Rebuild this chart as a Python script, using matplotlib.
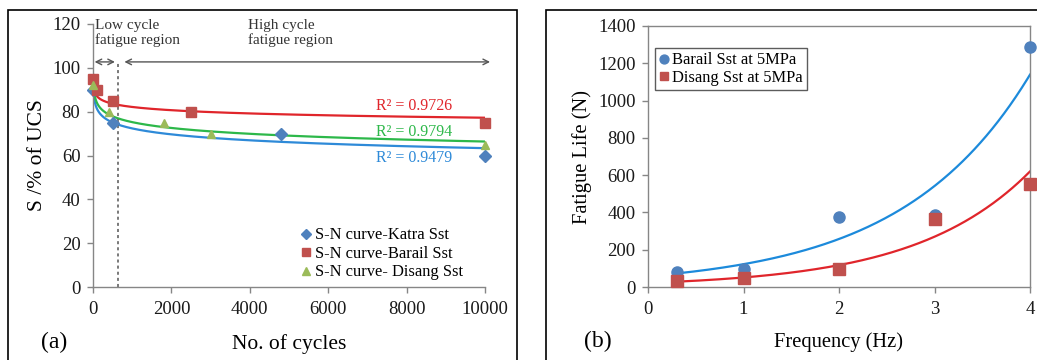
import numpy as np
import matplotlib
matplotlib.use('Agg')
import matplotlib.pyplot as plt
from matplotlib.patches import Rectangle

plt.rcParams['font.family'] = ['Liberation Serif', 'DejaVu Serif']

# ---- panel (a): S-N curves ----
katra_n = [10, 500, 4800, 10000]
katra_s = [90, 75, 70, 60]
barail_n = [1, 100, 500, 2500, 10000]
barail_s = [95, 90, 85, 80, 75]
disang_n = [10, 400, 1800, 3000, 10000]
disang_s = [92, 80, 75, 70, 65]
r2_labels = ['R² = 0.9479', 'R² = 0.9726', 'R² = 0.9794']
low_high_split = 650

# ---- panel (b): fatigue life vs frequency ----
freq = [0.3, 1, 2, 3, 4]
barail_life = [80, 95, 375, 385, 1290]
disang_life = [30, 50, 95, 365, 550]

grey = '#868686'
fig = plt.figure(figsize=(10.37, 3.6), dpi=100)

# panel frames
for x0, w in [(8, 509), (546, 500)]:
    fig.patches.append(Rectangle((x0 / 1037, -0.05), w / 1037, (350 / 360) + 0.05,
                                 transform=fig.transFigure, fill=False,
                                 edgecolor='black', linewidth=1.2))


def style(ax):
    for s in ax.spines.values():
        s.set_color(grey)
        s.set_linewidth(1.0)
    ax.tick_params(direction='out', length=4, color=grey, labelsize=13.5,
                   labelcolor='#1a1a1a', width=1.0)
    ax.tick_params(axis='y', pad=5)
    ax.tick_params(axis='x', pad=6)


# ---- left ----
ax1 = fig.add_axes([93 / 1037, 73 / 360, 392 / 1037, 263 / 360])
style(ax1)
ax1.spines['top'].set_visible(False)
ax1.spines['right'].set_visible(False)
ax1.set_xlim(0, 10000)
ax1.set_ylim(0, 120)
ax1.set_xticks(np.arange(0, 10001, 2000))
ax1.set_yticks(np.arange(0, 121, 20))

series = [
    (katra_n, katra_s, 'D', '#4F81BD', '#2E8AD8', 'S-N curve-Katra Sst', r2_labels[0], 59),
    (barail_n, barail_s, 's', '#C0504D', '#E0252B', 'S-N curve-Barail Sst', r2_labels[1], 82.6),
    (disang_n, disang_s, '^', '#9BBB59', '#2DB84A', 'S-N curve- Disang Sst', r2_labels[2], 70.7),
]
handles = []
for n, s, m, mc, lc, lab, r2, ry in series:
    k, b = np.polyfit(np.log(n), s, 1)
    nn = np.linspace(n[0], n[-1], 4000)
    ax1.plot(nn, k * np.log(nn) + b, color=lc, lw=1.6, zorder=2)
    ms = 7 if m == 's' else 6
    h, = ax1.plot(n, s, m, color=mc, ms=ms, ls='none', label=lab, zorder=3, clip_on=False)
    handles.append(h)
    ax1.text(8200, ry, r2, color=lc, fontsize=11.5, ha='center', va='center')

ax1.plot([low_high_split, low_high_split], [0, 103], ls=(0, (2, 2)), color='#555555', lw=1.1)
ax1.annotate('', xy=(-30, 102.7), xytext=(low_high_split - 20, 102.7),
             arrowprops=dict(arrowstyle='<->', color='#555555', lw=1.0),
             annotation_clip=False)
ax1.annotate('', xy=(low_high_split + 80, 102.7), xytext=(10200, 102.7),
             arrowprops=dict(arrowstyle='<->', color='#555555', lw=1.0),
             annotation_clip=False)
ax1.text(60, 115.7, 'Low cycle\nfatigue region', fontsize=11, ha='left', va='center',
         color='#333333', linespacing=1.1)
ax1.text(3950, 115.7, 'High cycle\nfatigue region', fontsize=11, ha='left', va='center',
         color='#333333', linespacing=1.1)

ax1.legend(handles=handles, loc='lower right', bbox_to_anchor=(0.96, 0.0), frameon=False,
           fontsize=11.9, handlelength=0.6, handletextpad=0.2, borderaxespad=0,
           labelspacing=0.15, markerscale=0.85)
ax1.set_xlabel('No. of cycles', fontsize=15.5, labelpad=12)
ax1.set_ylabel('S /% of UCS', fontsize=15.5, labelpad=4)
fig.text(54 / 1037, 1 - 342 / 360, '(a)', fontsize=17, ha='center', va='center')

# ---- right ----
ax2 = fig.add_axes([648 / 1037, 73 / 360, 382 / 1037, 261 / 360])
style(ax2)
ax2.set_xlim(0, 4)
ax2.set_ylim(0, 1400)
ax2.set_xticks(range(0, 5))
ax2.set_yticks(np.arange(0, 1401, 200))

ff = np.linspace(0.3, 4, 300)
for x, y, m, mc, lc, lab in [(freq, barail_life, 'o', '#4F81BD', '#1C8ADB', 'Barail Sst at 5MPa'),
                             (freq, disang_life, 's', '#C0504D', '#E0252B', 'Disang Sst at 5MPa')]:
    k, b = np.polyfit(x, np.log(y), 1)
    ax2.plot(ff, np.exp(b) * np.exp(k * ff), color=lc, lw=1.6, zorder=2)
    ax2.plot(x, y, m, color=mc, ms=8, ls='none', label=lab, zorder=3, clip_on=False)

leg = ax2.legend(loc='upper left', bbox_to_anchor=(0.018, 0.915), fontsize=11.9,
                 handlelength=0.6, handletextpad=0.2, borderaxespad=0, labelspacing=0.1,
                 fancybox=False, edgecolor='#333333', markerscale=0.8, borderpad=0.25)
leg.get_frame().set_linewidth(1.0)
ax2.set_xlabel('Frequency (Hz)', fontsize=14.8, labelpad=10)
ax2.set_ylabel('Fatigue Life (N)', fontsize=14.8, labelpad=4)
fig.text(598 / 1037, 1 - 341 / 360, '(b)', fontsize=17, ha='center', va='center')

fig.savefig('out.png', dpi=100)
